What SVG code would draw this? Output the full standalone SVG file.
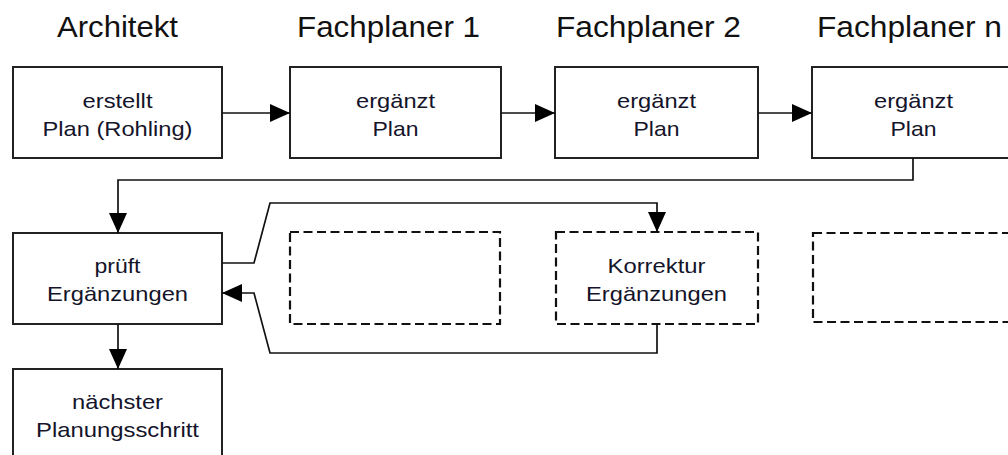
<svg xmlns="http://www.w3.org/2000/svg" width="1008" height="455" viewBox="0 0 1008 455">
<style>
.bg{fill:#ffffff}
.box{fill:#ffffff;stroke:#222222;stroke-width:2}
.dash{fill:#ffffff;stroke:#111111;stroke-width:2.2;stroke-dasharray:9 4.5}
.con{fill:none;stroke:#111111;stroke-width:1.7}
.title{font-family:"Liberation Sans",Arial,sans-serif;font-size:29px;fill:#111111;text-anchor:middle}
.lbl{font-family:"Liberation Sans",Arial,sans-serif;font-size:21px;fill:#14142a;text-anchor:middle}
</style>
<defs>
<marker id="arr" viewBox="0 0 20 18" refX="20" refY="9" markerUnits="userSpaceOnUse" markerWidth="20" markerHeight="18" orient="auto">
<path d="M0,0 L20,9 L0,18 z" fill="#000000"/>
</marker>
</defs>
<rect class="bg" x="0" y="0" width="1008" height="455"/>
<g id="titles">
<text class="title" x="117.5" y="37" textLength="121" lengthAdjust="spacingAndGlyphs">Architekt</text>
<text class="title" x="388.5" y="37" textLength="183" lengthAdjust="spacingAndGlyphs">Fachplaner 1</text>
<text class="title" x="648.5" y="37" textLength="185" lengthAdjust="spacingAndGlyphs">Fachplaner 2</text>
<text class="title" x="909.5" y="37" textLength="185" lengthAdjust="spacingAndGlyphs">Fachplaner n</text>
</g>
<g id="node-erstellt">
<rect class="box" x="13" y="67" width="209" height="91"/>
<text class="lbl" x="117.5" y="108" textLength="70" lengthAdjust="spacingAndGlyphs">erstellt</text>
<text class="lbl" x="117.5" y="136" textLength="150" lengthAdjust="spacingAndGlyphs">Plan (Rohling)</text>
</g>
<g id="node-fp1">
<rect class="box" x="290" y="67" width="211" height="91"/>
<text class="lbl" x="395.5" y="108" textLength="79" lengthAdjust="spacingAndGlyphs">ergänzt</text>
<text class="lbl" x="395.5" y="136" textLength="46" lengthAdjust="spacingAndGlyphs">Plan</text>
</g>
<g id="node-fp2">
<rect class="box" x="555" y="67" width="203" height="91"/>
<text class="lbl" x="656.5" y="108" textLength="79" lengthAdjust="spacingAndGlyphs">ergänzt</text>
<text class="lbl" x="656.5" y="136" textLength="46" lengthAdjust="spacingAndGlyphs">Plan</text>
</g>
<g id="node-fpn">
<rect class="box" x="812" y="67" width="210" height="91"/>
<text class="lbl" x="913.5" y="108" textLength="79" lengthAdjust="spacingAndGlyphs">ergänzt</text>
<text class="lbl" x="913.5" y="136" textLength="46" lengthAdjust="spacingAndGlyphs">Plan</text>
</g>
<g id="node-prueft">
<rect class="box" x="13" y="233" width="209" height="91"/>
<text class="lbl" x="117.5" y="273" textLength="46" lengthAdjust="spacingAndGlyphs">prüft</text>
<text class="lbl" x="117.5" y="301" textLength="141" lengthAdjust="spacingAndGlyphs">Ergänzungen</text>
</g>
<g id="node-empty1">
<rect class="dash" x="290" y="232" width="210" height="92"/>
</g>
<g id="node-korrektur">
<rect class="dash" x="556" y="232" width="202" height="92"/>
<text class="lbl" x="656.5" y="273" textLength="98" lengthAdjust="spacingAndGlyphs">Korrektur</text>
<text class="lbl" x="656.5" y="301" textLength="141" lengthAdjust="spacingAndGlyphs">Ergänzungen</text>
</g>
<g id="node-empty2">
<rect class="dash" x="813" y="233" width="210" height="89"/>
</g>
<g id="node-naechster">
<rect class="box" x="13" y="369" width="209" height="92"/>
<text class="lbl" x="117.5" y="409" textLength="91" lengthAdjust="spacingAndGlyphs">nächster</text>
<text class="lbl" x="117.5" y="437" textLength="163" lengthAdjust="spacingAndGlyphs">Planungsschritt</text>
</g>
<g id="connectors">
<path class="con" d="M222,113 L290,113" marker-end="url(#arr)"/>
<path class="con" d="M501,113 L555,113" marker-end="url(#arr)"/>
<path class="con" d="M758,113 L812,113" marker-end="url(#arr)"/>
<path class="con" d="M913,158 L913,180 L118,180 L118,233" marker-end="url(#arr)"/>
<path class="con" d="M222,263 L254,263 L270,203 L657,203 L657,232" marker-end="url(#arr)"/>
<path class="con" d="M657,324 L657,353 L270,353 L254,293 L222,293" marker-end="url(#arr)"/>
<path class="con" d="M118,324 L118,369" marker-end="url(#arr)"/>
</g>
</svg>
